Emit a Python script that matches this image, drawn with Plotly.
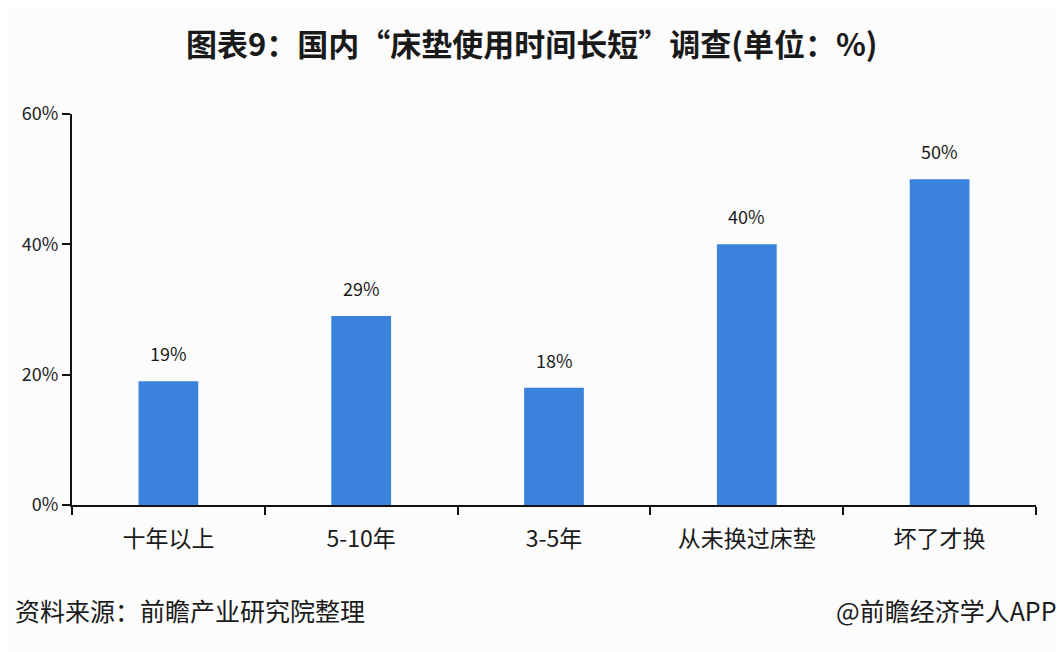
import plotly.graph_objects as go

categories = ["十年以上", "5-10年", "3-5年", "从未换过床垫", "坏了才换"]
values = [19, 29, 18, 40, 50]
y_ticks = [0, 20, 40, 60]
y_tick_labels = ["0%", "20%", "40%", "60%"]

title_text = "<b>图表9：国内“床垫使用时间长短”调查(单位：%)</b>"
source_text = "资料来源：前瞻产业研究院整理"
credit_text = "@前瞻经济学人APP"

font_cjk = "Noto Sans CJK SC"

fig = go.Figure()
fig.add_trace(go.Bar(
    x=categories,
    y=values,
    marker=dict(color="#3b82dc", line=dict(width=0)),
    width=0.31,
    hoverinfo="x+y",
))

for c, v in zip(categories, values):
    fig.add_annotation(
        x=c, y=v, text=f"{v}%", showarrow=False,
        yshift=28, xanchor="center", yanchor="middle",
        font=dict(family=font_cjk, size=18, color="#1a1a1a"),
    )

fig.update_layout(
    width=1056, height=644,
    margin=dict(l=64, r=28, t=106, b=147),
    paper_bgcolor="#fcfcfd",
    plot_bgcolor="#fcfcfd",
    showlegend=False,
    font=dict(family=font_cjk, color="#1a1a1a"),
)

fig.update_yaxes(
    range=[0, 60],
    tickvals=y_ticks,
    ticktext=y_tick_labels,
    showline=True, linecolor="#111111", linewidth=2,
    ticks="outside", ticklen=8, tickwidth=2, tickcolor="#111111",
    showgrid=False, zeroline=False,
    tickfont=dict(family=font_cjk, size=18, color="#222222"),
)
fig.update_xaxes(
    showline=True, linecolor="#111111", linewidth=2,
    ticks="outside", ticklen=8, tickwidth=2, tickcolor="#111111",
    tickson="boundaries",
    ticklabelstandoff=12,
    showgrid=False,
    tickfont=dict(family=font_cjk, size=23, color="#1a1a1a"),
)

fig.add_annotation(
    text=title_text, xref="paper", yref="paper",
    x=0.477, y=1.0, yshift=72, xanchor="center", yanchor="middle",
    showarrow=False,
    font=dict(family=font_cjk, size=31, color="#1a1a1a"),
)
fig.add_annotation(
    text=source_text, xref="paper", yref="paper",
    x=0, y=0, xshift=-59, yshift=-105, xanchor="left", yanchor="middle",
    showarrow=False,
    font=dict(family=font_cjk, size=25, color="#1a1a1a"),
)
fig.add_annotation(
    text=credit_text, xref="paper", yref="paper",
    x=1, y=0, xshift=23, yshift=-105, xanchor="right", yanchor="middle",
    showarrow=False,
    font=dict(family=font_cjk, size=25, color="#1a1a1a"),
)

fig.write_html("out.html")
